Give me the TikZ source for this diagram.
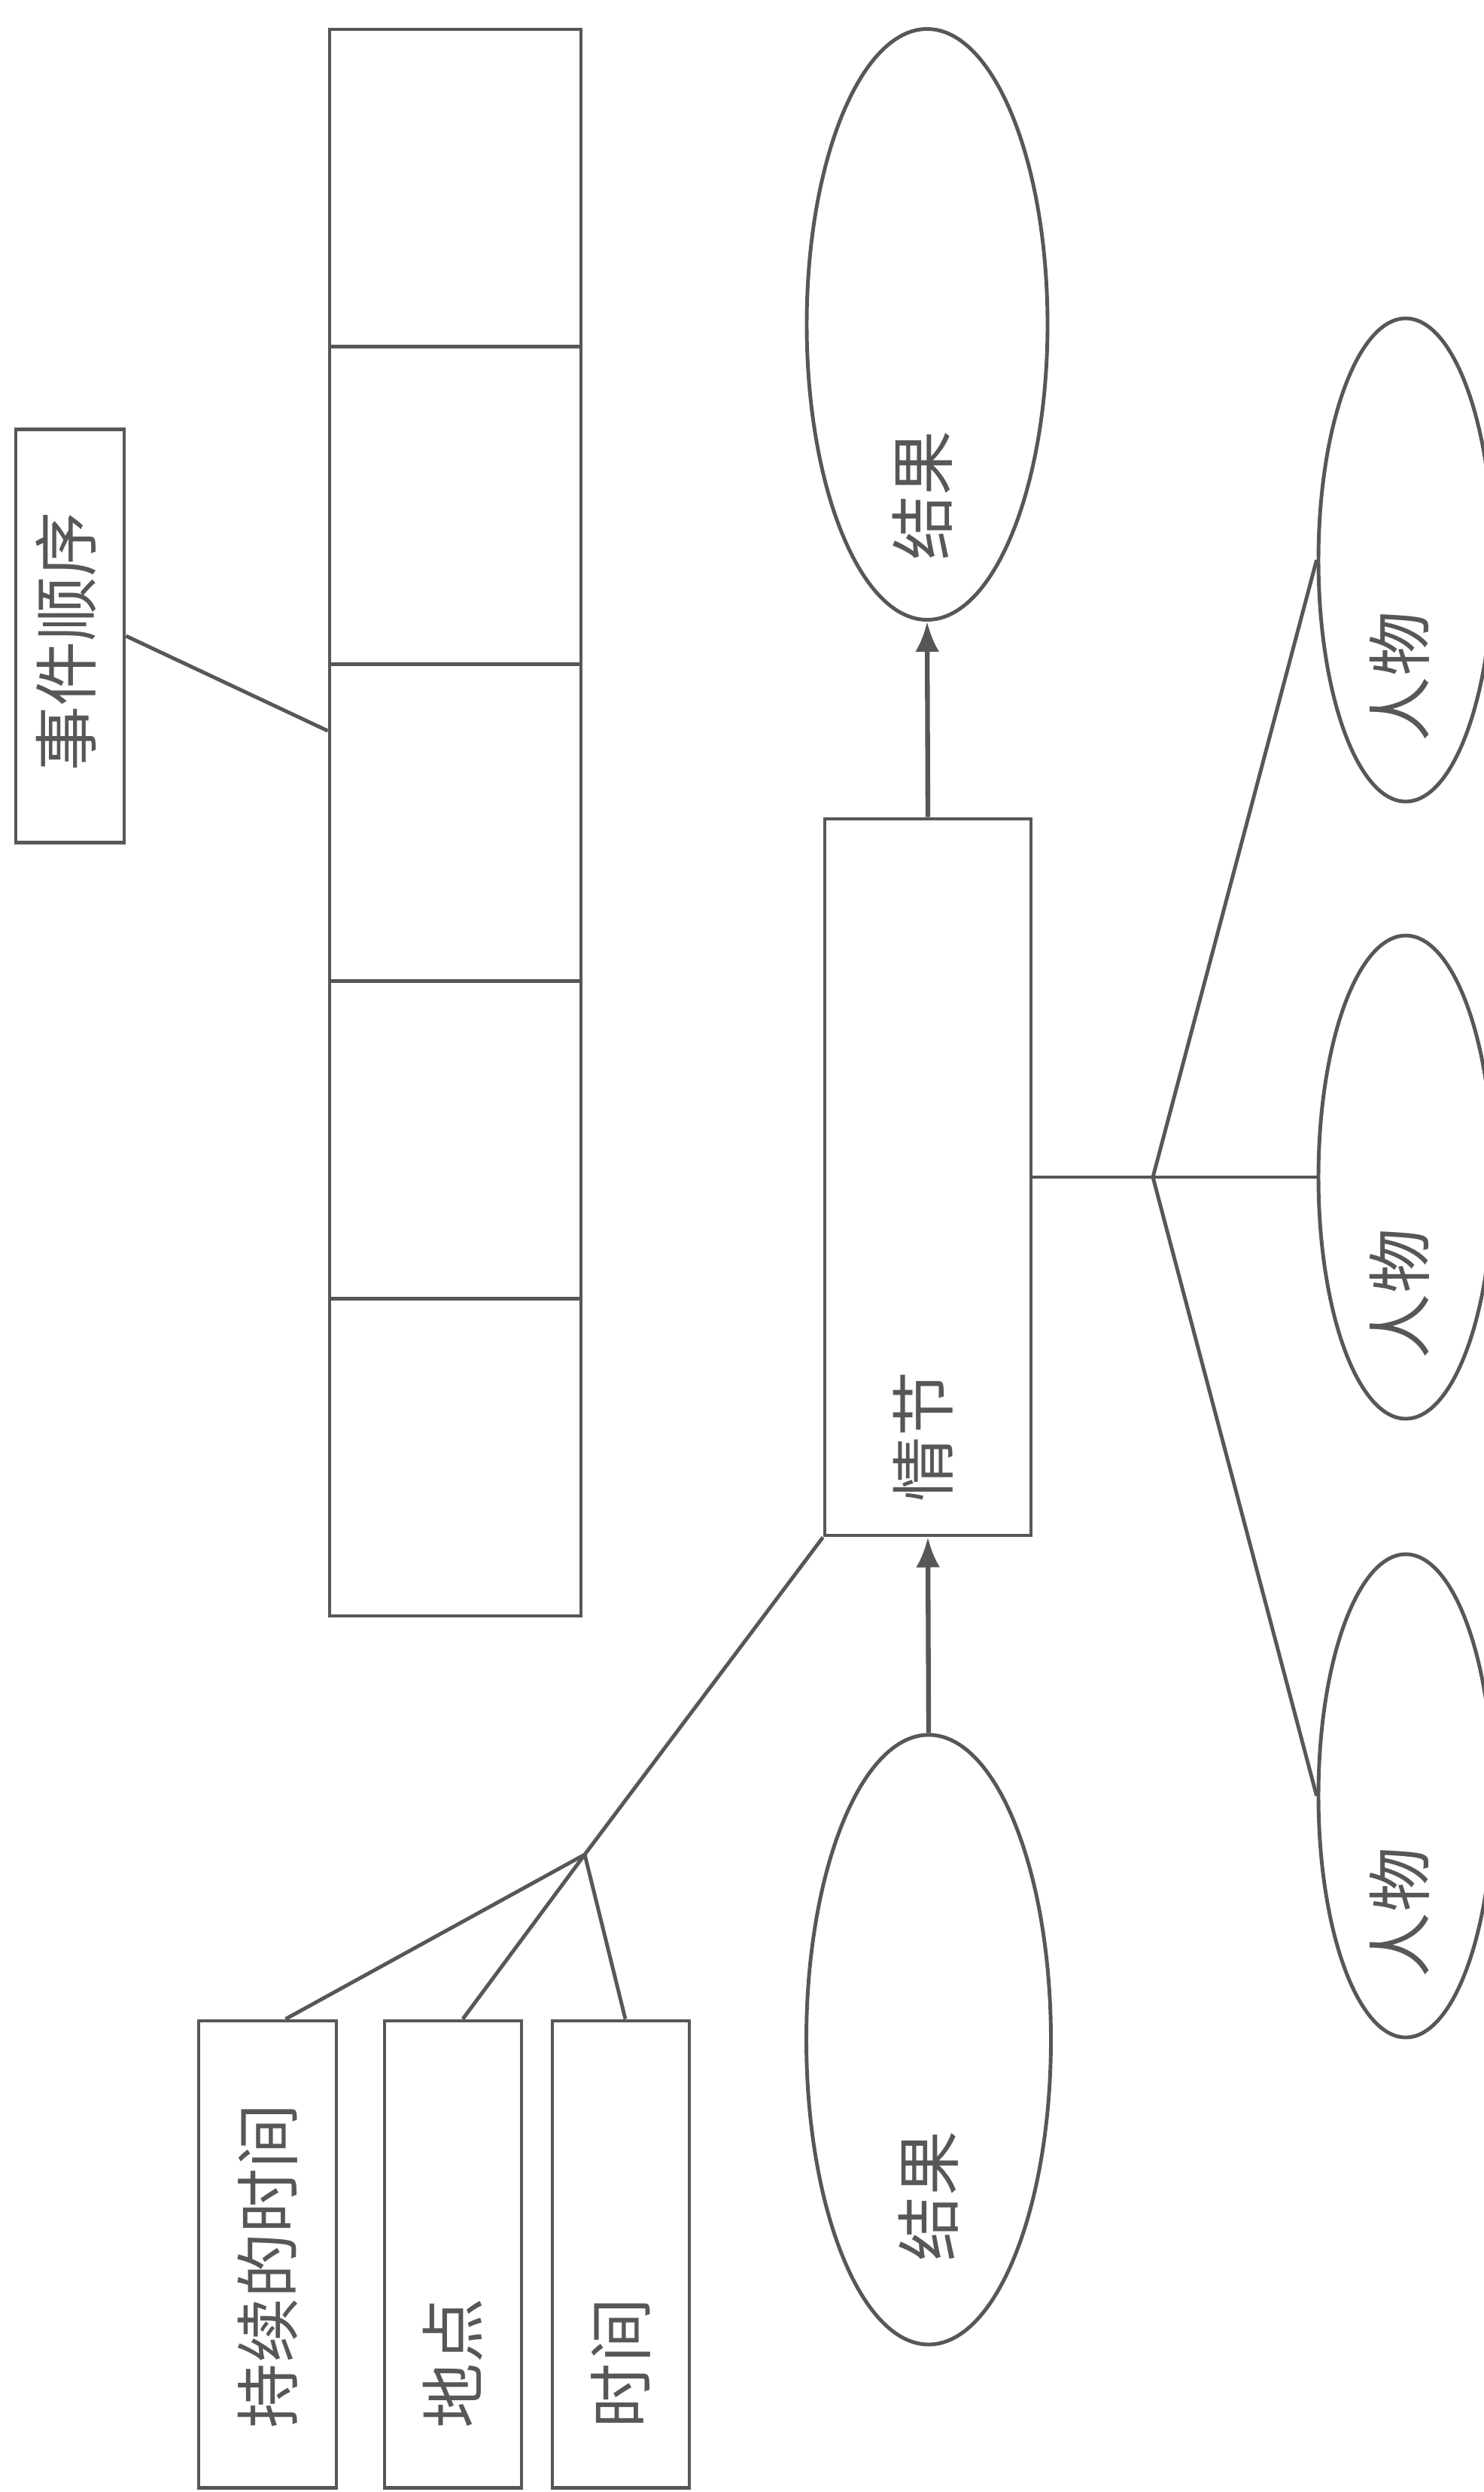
\documentclass[tikz,border=0pt]{standalone}
\usepackage{fontspec}
\setmainfont{Noto Sans CJK SC}
\usetikzlibrary{shapes.geometric,arrows.meta,calc}
\definecolor{ink}{HTML}{575757}

\begin{document}
\begin{tikzpicture}[line width=1.4pt,color=ink,
	box/.style={draw,rectangle,inner sep=0pt},
	oval/.style={draw,ellipse,inner sep=0pt},
	lbl/.style={rotate=90,anchor=west,inner sep=0pt,font=\fontsize{24.5}{28}\selectfont},
	arr/.style={-{Latex[length=0.4cm,width=0.32cm]},line width=1.8pt}]

	\clip (0,0) rectangle (19.72,-33.11);

	% event order
	\node[box,minimum width=1.44cm,minimum height=5.49cm] (seq) at (0.93,-8.45) {};
	\node[lbl] (tseq) at ([xshift=-0.05cm,yshift=0.95cm]seq.south) {事件顺序};
	\foreach \i in {1,...,5}
		\node[box,minimum width=3.34cm,minimum height=4.216cm] (c\i) at (6.05,{-2.498-4.216*(\i-1)}) {};
	\draw (seq.east) -- ([yshift=1.22cm]c3.west);

	% plot and results
	\node[box,minimum width=2.74cm,minimum height=9.52cm] (plot) at (12.33,-15.64) {};
	\node[lbl] (tplot) at ([xshift=-0.06cm,yshift=0.45cm]plot.south) {情节};
	\node[oval,minimum width=3.2cm,minimum height=7.85cm] (res1) at (12.32,-4.31) {};
	\node[lbl] (tres1) at ([xshift=-0.06cm,yshift=0.79cm]res1.south) {结果};
	\node[oval,minimum width=3.25cm,minimum height=8.1cm] (res2) at (12.34,-27.10) {};
	\node[lbl] (tres2) at ([yshift=1.11cm]res2.south) {结果};
	\draw[arr] (plot.north) -- (res1.south);
	\draw[arr] (res2.north) -- (plot.south);

	% persons
	\foreach \i/\y in {1/-7.44,2/-15.64,3/-23.86}{
		\node[oval,minimum width=2.32cm,minimum height=6.42cm] (p\i) at (18.68,\y) {};
		\node[lbl] (tp\i) at ([xshift=-0.08cm,yshift=0.8cm]p\i.south) {人物};
	}
	\coordinate (pj) at (15.32,-15.64);
	\draw (plot.east) -- (pj);
	\foreach \i in {1,2,3}
		\draw (pj) -- (p\i.west);

	% setting
	\node[box,minimum width=1.83cm,minimum height=6.2cm] (dur) at (3.555,-29.95) {};
	\node[box,minimum width=1.82cm,minimum height=6.2cm] (place) at (6.02,-29.95) {};
	\node[box,minimum width=1.82cm,minimum height=6.2cm] (time) at (8.25,-29.95) {};
	\node[lbl] (tdur) at ([yshift=0.79cm]dur.south) {持续的时间};
	\node[lbl] (tplace) at ([yshift=0.79cm]place.south) {地点};
	\node[lbl] (ttime) at ([yshift=0.79cm]time.south) {时间};
	\coordinate (tj) at (7.77,-24.64);
	\draw (plot.south west) -- (tj);
	\draw (tj) -- ([xshift=0.24cm]dur.north);
	\draw (tj) -- ([xshift=0.13cm]place.north);
	\draw (tj) -- ([xshift=0.06cm]time.north);

\end{tikzpicture}
\end{document}
